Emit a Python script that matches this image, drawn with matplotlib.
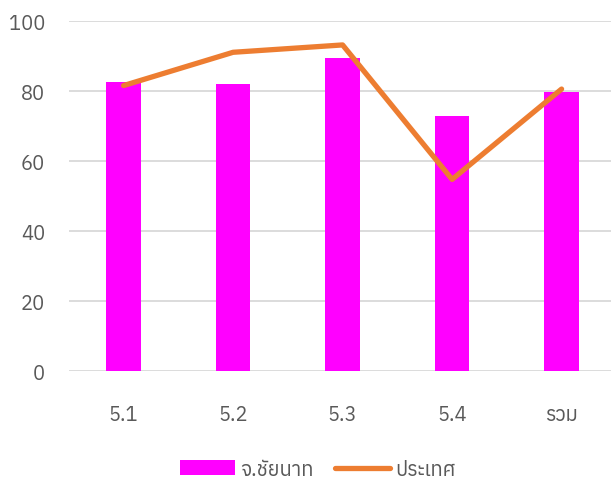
import matplotlib
matplotlib.use('Agg')
import matplotlib.pyplot as plt
from matplotlib import font_manager
from matplotlib.ft2font import FT2Font
import numpy as np

categories = ['5.1', '5.2', '5.3', '5.4', 'รวม']
chainat = [82.6, 82.1, 89.6, 72.9, 79.8]
country = [81.6, 91.1, 93.2, 54.8, 80.6]
labels = ['จ.ชัยนาท', 'ประเทศ']

# find an installed font that can draw Thai
thai = []
for f in font_manager.fontManager.ttflist:
    try:
        if 0x0E08 in FT2Font(f.fname).get_charmap():
            thai.append(f.name)
    except Exception:
        pass
families = sorted(set(thai))[:1] + ['DejaVu Sans']
plt.rcParams['font.family'] = families

fig = plt.figure(figsize=(6.11, 4.81), dpi=100)
ax = fig.add_axes([0.1127, 0.226, 0.896, 0.728])
x = np.arange(len(categories))
bars = ax.bar(x, chainat, width=0.314, color='#FF00FF', label=labels[0], zorder=2)
line, = ax.plot(x, country, color='#ED7D31', linewidth=3.8, solid_capstyle='round',
                solid_joinstyle='round', label=labels[1], zorder=3)
ax.set_xlim(-0.5, 4.5)
ax.set_ylim(0, 100)
ax.set_yticks(range(0, 101, 20))
ax.set_xticks(x)
ax.set_xticklabels(categories)
ax.grid(axis='y', color='#D9D9D9', linewidth=1.3, zorder=0)
for s in ax.spines.values():
    s.set_visible(False)
ax.tick_params(length=0, labelsize=14.5, colors='#595959')
ax.tick_params(axis='y', pad=17)
ax.tick_params(axis='x', pad=24)
fig.legend([bars, line], labels, loc='lower center', bbox_to_anchor=(0.52, -0.035),
           ncol=2, frameon=False, fontsize=14.5, labelcolor='#595959',
           handlelength=2.7, handleheight=0.75, handletextpad=0.25, columnspacing=1.1)
fig.savefig('out.png', dpi=100)
